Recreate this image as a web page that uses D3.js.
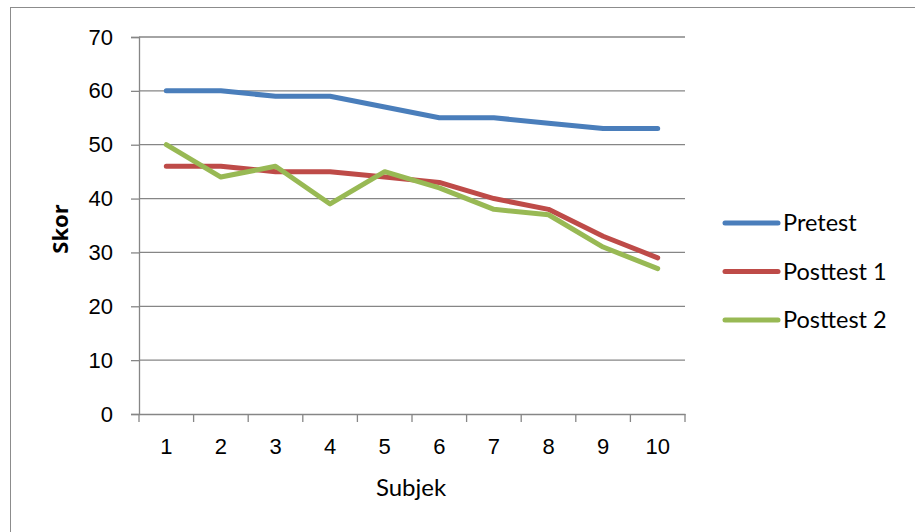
<!DOCTYPE html>
<html><head><meta charset="utf-8">
<script src="https://cdn.jsdelivr.net/npm/d3@7"></script>
<style>body{margin:0;background:#fff;} svg{display:block;}</style>
</head><body>
<script>
const categories = ["1","2","3","4","5","6","7","8","9","10"];
const pretest = [60,60,59,59,57,55,55,54,53,53];
const posttest1 = [46,46,45,45,44,43,40,38,33,29];
const posttest2 = [50,44,46,39,45,42,38,37,31,27];
const yTicks = [0,10,20,30,40,50,60,70];
const seriesNames = ["Pretest","Posttest 1","Posttest 2"];
const seriesColors = ["#4a7ebb","#be4b48","#98b954"];
const series = [pretest, posttest1, posttest2];

const W = 915, H = 532;
const svg = d3.select("body").append("svg").attr("width", W).attr("height", H);
svg.append("rect").attr("x",10.5).attr("y",7.5).attr("width",W).attr("height",H).attr("fill","#fff").attr("stroke","#8c8c8c").attr("stroke-width",1);

const L = 139, R = 685, T = 37, B = 414;
const x = d3.scaleBand().domain(categories).range([L,R]).padding(0);
const y = d3.scaleLinear().domain([0,70]).range([B,T]);
const grid = "#868686";
const numFont = "'Liberation Sans', Arial, sans-serif";
const txtFont = "Lato, 'Open Sans', sans-serif";

// gridlines
svg.append("g").selectAll("line").data(yTicks.filter(d=>d>0)).join("line")
  .attr("x1",L).attr("x2",R).attr("y1",d=>y(d)).attr("y2",d=>y(d))
  .attr("stroke",grid).attr("stroke-width",1.3);

// y axis
const yAxis = svg.append("g").attr("transform",`translate(${L},0)`)
  .call(d3.axisLeft(y).tickValues(yTicks).tickSize(8).tickPadding(18).tickFormat(d3.format("d")));
yAxis.select(".domain").attr("stroke",grid).attr("stroke-width",1.3);
yAxis.selectAll(".tick line").attr("stroke",grid).attr("stroke-width",1.3);
yAxis.selectAll("text").attr("font-family",numFont).attr("font-size",22).attr("fill","#000");

// x axis
const xAxis = svg.append("g").attr("transform",`translate(0,${B})`)
  .call(d3.axisBottom(x).tickSize(0).tickPadding(24));
xAxis.select(".domain").attr("stroke",grid).attr("stroke-width",1.3);
xAxis.selectAll("text").attr("font-family",numFont).attr("font-size",22).attr("fill","#000");
const bounds = categories.map(c=>x(c)).concat([R]);
xAxis.append("g").selectAll("line").data(bounds).join("line")
  .attr("x1",d=>d).attr("x2",d=>d).attr("y1",0).attr("y2",8)
  .attr("stroke",grid).attr("stroke-width",1.3);

// lines
const line = d3.line().x((d,i)=>x(categories[i])+x.bandwidth()/2).y(d=>y(d));
series.forEach((s,k)=>{
  svg.append("path").datum(s).attr("d",line).attr("fill","none")
    .attr("stroke",seriesColors[k]).attr("stroke-width",5)
    .attr("stroke-linecap","round").attr("stroke-linejoin","round");
});

// axis titles
svg.append("text").attr("x",411).attr("y",496).attr("text-anchor","middle")
  .attr("font-family",txtFont).attr("font-size",24).text("Subjek");
svg.append("text").attr("transform",`translate(68,229) rotate(-90)`).attr("text-anchor","middle")
  .attr("font-family","'Open Sans', Lato, sans-serif").attr("font-size",22).attr("font-weight","bold").text("Skor");

// legend
const lg = svg.append("g");
seriesNames.forEach((n,k)=>{
  const yy = 223 + k*48.5;
  lg.append("line").attr("x1",725).attr("x2",778).attr("y1",yy).attr("y2",yy)
    .attr("stroke",seriesColors[k]).attr("stroke-width",5).attr("stroke-linecap","round");
  lg.append("text").attr("x",783).attr("y",yy).attr("dy","0.36em")
    .attr("font-family",txtFont).attr("font-size",23.5).text(n);
});
</script>
</body></html>
